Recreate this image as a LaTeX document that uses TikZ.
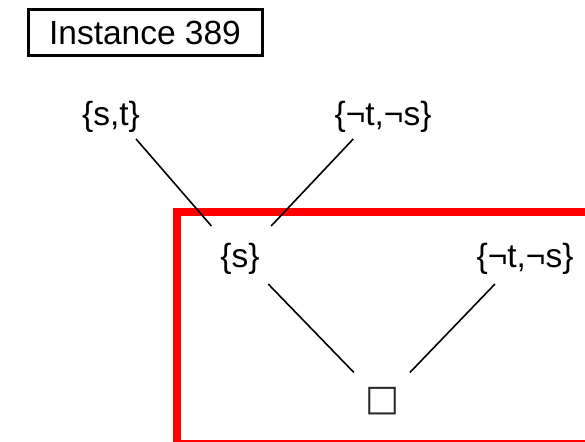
\documentclass[tikz,border=0pt]{standalone}
\usepackage{fontspec}
\setmainfont{Liberation Sans}
\newfontfamily\symfont{DejaVu Sans}
\begin{document}
\begin{tikzpicture}[x=1pt,y=-1pt,
  lbl/.style={inner sep=0pt, font=\fontsize{33.5}{36}\selectfont},
  edge/.style={line width=1.6pt, line cap=butt},
  redframe/.style={draw=red, line width=8pt},
  instbox/.style={draw, line width=3pt, minimum width=234pt, minimum height=46pt, inner sep=0pt, font=\fontsize{33.5}{36}\selectfont}]
\useasboundingbox (0,0) rectangle (585,441);
\clip (0,0) rectangle (585,441);
\node[instbox] (inst) at (145,33) {Instance 389};
\node[lbl] (st) at (111,117) {\{s,t\}};
\node[lbl] (nts1) at (383,117) {\{¬t,¬s\}};
\node[lbl] (s) at (240,259) {\{s\}};
\node[lbl] (nts2) at (525,259) {\{¬t,¬s\}};
\node[inner sep=0pt, font=\symfont\fontsize{36}{38}\selectfont, text=black!85] (box) at (382,401.5) {□};
\draw[redframe] (176.7,212) rectangle (620,443.5);
\draw[edge, shorten <=29.1pt, shorten >=43.7pt] ([xshift=6pt]st.center) -- (s.center);
\draw[edge, shorten <=30.2pt, shorten >=45.4pt] ([xshift=-9pt]nts1.center) -- (s.center);
\draw[edge, shorten <=34.9pt, shorten >=40.4pt] ([xshift=4pt]s.center) -- (box.center);
\draw[edge, shorten <=34.7pt, shorten >=40.3pt] ([xshift=-6pt]nts2.center) -- (box.center);
\end{tikzpicture}
\end{document}
